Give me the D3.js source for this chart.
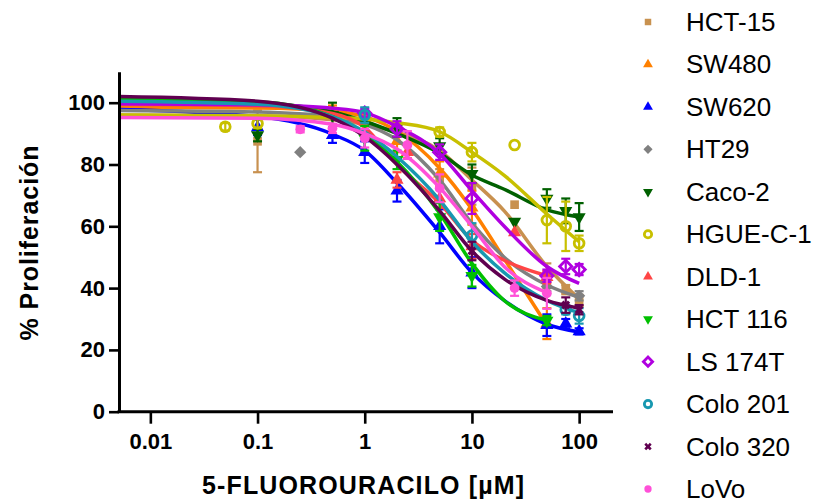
<!DOCTYPE html>
<html>
<head>
<meta charset="utf-8">
<script src="https://cdn.jsdelivr.net/npm/d3@7"></script>
<style>
  body { margin: 0; background: #fff; }
  svg { display: block; }
</style>
</head>
<body>
<svg id="chart" width="813" height="504"></svg>
<script>
// legend order = drawing order
const seriesNames = ['HCT-15', 'SW480', 'SW620', 'HT29', 'Caco-2', 'HGUE-C-1',
                     'DLD-1', 'HCT 116', 'LS 174T', 'Colo 201', 'Colo 320', 'LoVo'];
const seriesColors = ['#c8914f', '#ff8000', '#0000ff', '#808080', '#006000', '#c8c000',
                      '#ff4545', '#00c000', '#b000e0', '#1898b0', '#600050', '#ff50d8'];
const seriesShapes = ['square', 'triangle', 'triangle', 'diamond', 'triangleDown', 'circleOpen',
                      'triangle', 'triangleDown', 'diamondOpen', 'circleOpen', 'x', 'circle'];

// concentrations (µM) at which the fitted curves were read
const curveConc = [0.0051, 0.1, 0.5, 1, 2, 5, 10, 20, 50, 100];

// fitted curves, % proliferation at curveConc
const hct15Curve   = [96, 95.8, 94.5, 93, 90.5, 84.5, 75, 65, 47, 36.5];
const sw480Curve   = [98.5, 98.3, 97.2, 95.5, 90.8, 78.8, 65.5, 49.5, 28];
const sw620Curve   = [97.8, 95.5, 89.8, 84.5, 74, 58, 45, 36, 28.3, 25.8];
const ht29Curve    = [97.5, 97, 95.5, 93, 88, 75, 61, 50, 41, 37];
const caco2Curve   = [100.5, 99.8, 97, 94, 90, 83.6, 76.6, 72, 65.3, 63];
const hgueCurve    = [96, 95.8, 95.2, 94.7, 93.5, 90.6, 84, 76.5, 64, 55];
const dld1Curve    = [99.5, 99, 96.5, 92, 80, 67.5, 55.5, 49, 44];
const hct116Curve  = [101, 100.3, 95.5, 89.5, 80.9, 64.2, 48, 36, 29.5];
const ls174tCurve  = [99.7, 99.3, 98.2, 96.8, 92.3, 83.5, 71.5, 60, 47, 41.5];
const colo201Curve = [100.5, 99.5, 95.5, 90.5, 82.5, 68.5, 55, 45, 36, 32];
const colo320Curve = [102, 100.5, 95, 89, 80, 65, 52, 43, 36, 33.5];
const lovoCurve    = [95.2, 95, 93, 90, 85, 72.5, 60, 47, 38.5];

// measured points: [concentration, mean, error]
const hct15Points   = [[0.1, 87.5, 10], [5, 75.5, 3], [10, 73, 6], [25, 67, 0], [50, 44, 4], [75, 39.5, 1.5], [100, 36, 1.8]];
const sw480Points   = [[0.5, 97.6, 1.5], [1, 95, 1.5], [2, 87.5, 3.5], [5, 77, 4], [10, 66, 5.5], [50, 28.5, 5]];
const sw620Points   = [[0.1, 92, 2.5], [0.5, 89.5, 2.5], [1, 84, 3.5], [2, 71.5, 3.5], [5, 60, 5.5], [10, 45, 5], [50, 28, 3.5], [75, 28.5, 1.5], [100, 26, 1]];
const ht29Points    = [[0.25, 84, 0], [50, 40.5, 1.5], [100, 37.5, 1.5]];
const caco2Points   = [[0.1, 89.5, 2], [0.5, 96, 4], [2, 92, 3], [5, 86, 2.5], [10, 77, 3], [25, 61.5, 0], [50, 69, 3], [75, 65, 4], [100, 63, 4.5]];
const hguePoints    = [[0.05, 92.2, 1.2], [0.1, 93.3, 1.5], [5, 90.5, 1.5], [10, 84, 3], [25, 86.3, 0], [50, 62, 7.5], [75, 60, 8], [100, 54.5, 2.5]];
const dld1Points    = [[2, 75, 2.5], [2.5, 84, 2], [5, 69, 3], [10, 53.5, 4], [25, 58, 0], [50, 43.5, 2]];
const hct116Points  = [[1, 88.5, 4], [2, 81.5, 3], [5, 63, 4.5], [10, 44, 3.5], [50, 29.5, 1.5]];
const ls174tPoints  = [[1, 96.6, 1.5], [2, 91.5, 2.5], [5, 84, 2.5], [10, 69, 5], [50, 44, 2], [75, 47, 2.5], [100, 46, 1.8]];
const colo201Points = [[1, 96, 2.5], [10, 57, 4], [75, 33, 1.5], [100, 31, 2.5]];
const colo320Points = [[10, 52, 3], [75, 34.5, 2.5], [100, 33, 1.5]];
const lovoPoints    = [[0.25, 91.4, 1], [0.5, 91.7, 1.5], [1, 88.5, 3], [2.5, 86.3, 4.5], [5, 72.3, 4.5], [25, 40, 2.5], [50, 38.3, 5]];

const allCurves = [hct15Curve, sw480Curve, sw620Curve, ht29Curve, caco2Curve, hgueCurve,
                   dld1Curve, hct116Curve, ls174tCurve, colo201Curve, colo320Curve, lovoCurve];
const allPoints = [hct15Points, sw480Points, sw620Points, ht29Points, caco2Points, hguePoints,
                   dld1Points, hct116Points, ls174tPoints, colo201Points, colo320Points, lovoPoints];

const xTicks = [0.01, 0.1, 1, 10, 100];
const xTickLabels = ['0.01', '0.1', '1', '10', '100'];
const yTicks = [0, 20, 40, 60, 80, 100];

const font = '"Liberation Sans", Arial, sans-serif';
const svg = d3.select('#chart');

const x = d3.scaleLog()
    .domain([0.0051, 207])
    .range([119, 613]);

const y = d3.scaleLinear()
    .domain([0, 110])
    .range([411.7, 71.8]);

// symbol for each marker type
function markerPath(shape, size) {
    const map = {
        square: d3.symbolSquare, diamond: d3.symbolSquare, diamondOpen: d3.symbolSquare,
        triangle: d3.symbolTriangle, triangleDown: d3.symbolTriangle,
        circle: d3.symbolCircle, circleOpen: d3.symbolCircle, x: d3.symbolCross
    };
    return d3.symbol().type(map[shape]).size(size)();
}
function markerRotate(shape) {
    if (shape === 'diamond' || shape === 'diamondOpen' || shape === 'x') return 45;
    if (shape === 'triangleDown') return 180;
    return 0;
}
function drawMarker(g, shape, color, cx, cy, size) {
    const open = shape === 'circleOpen' || shape === 'diamondOpen';
    g.append('path')
        .attr('d', markerPath(shape, size))
        .attr('transform', `translate(${cx},${cy}) rotate(${markerRotate(shape)})`)
        .attr('fill', open ? 'none' : color)
        .attr('stroke', open ? color : 'none')
        .attr('stroke-width', open ? 2.8 : 0);
}

const line = d3.line()
    .x(d => x(d[0]))
    .y(d => y(d[1]))
    .curve(d3.curveMonotoneX);

const plot = svg.append('g');

seriesNames.forEach((name, i) => {
    const color = seriesColors[i];
    const g = plot.append('g').attr('class', 'series');

    // fitted curve
    const curveData = allCurves[i].map((v, j) => [curveConc[j], v]);
    g.append('path')
        .datum(curveData)
        .attr('d', line)
        .attr('fill', 'none')
        .attr('stroke', color)
        .attr('stroke-width', 3.5);

    // error bars
    allPoints[i].filter(p => p[2] > 0).forEach(p => {
        const px = x(p[0]);
        const top = y(p[1] + p[2]);
        const bot = y(p[1] - p[2]);
        g.append('line').attr('x1', px).attr('x2', px).attr('y1', top).attr('y2', bot)
            .attr('stroke', color).attr('stroke-width', 2.2);
        [top, bot].forEach(cy => {
            g.append('line').attr('x1', px - 4.5).attr('x2', px + 4.5).attr('y1', cy).attr('y2', cy)
                .attr('stroke', color).attr('stroke-width', 2.2);
        });
    });

    // markers
    allPoints[i].forEach(p => {
        drawMarker(g, seriesShapes[i], color, x(p[0]), y(p[1]), seriesShapes[i] === 'x' ? 50 : 75);
    });
});

// Axes
const xAxis = svg.append('g')
    .attr('transform', `translate(0,${y(0)})`)
    .call(d3.axisBottom(x)
        .tickValues(xTicks)
        .tickFormat((d, i) => xTickLabels[i])
        .tickSize(12)
        .tickSizeOuter(0)
        .tickPadding(10));

const yAxis = svg.append('g')
    .attr('transform', `translate(${x.range()[0]},0)`)
    .call(d3.axisLeft(y)
        .tickValues(yTicks)
        .tickSize(10)
        .tickSizeOuter(0)
        .tickPadding(4));

[xAxis, yAxis].forEach(ax => {
    ax.select('.domain').attr('stroke', '#000').attr('stroke-width', 3);
    ax.selectAll('.tick line').attr('stroke', '#000').attr('stroke-width', 2.6);
    ax.selectAll('.tick text')
        .style('font-family', font)
        .style('font-size', '22px')
        .style('font-weight', 'bold')
        .attr('fill', '#000');
});
xAxis.select('.domain').attr('d', `M${x.range()[0] - 1.5},0H${x.range()[1]}`);

// Axis titles
svg.append('text')
    .attr('x', 363)
    .attr('y', 494)
    .attr('text-anchor', 'middle')
    .attr('textLength', 322)
    .attr('lengthAdjust', 'spacing')
    .style('font-family', font)
    .style('font-size', '25px')
    .style('font-weight', 'bold')
    .text('5-FLUOROURACILO [µM]');

svg.append('text')
    .attr('transform', 'translate(38,243) rotate(-90)')
    .attr('text-anchor', 'middle')
    .attr('textLength', 195)
    .attr('lengthAdjust', 'spacing')
    .style('font-family', font)
    .style('font-size', '25px')
    .style('font-weight', 'bold')
    .text('% Proliferación');

// Legend
const legendY = d3.scalePoint()
    .domain(seriesNames)
    .range([22, 489]);

const legend = svg.append('g');
seriesNames.forEach((name, i) => {
    const cy = legendY(name);
    drawMarker(legend, seriesShapes[i], seriesColors[i], 648, cy, seriesShapes[i] === 'x' ? 34 : 42);
    legend.append('text')
        .attr('x', 686)
        .attr('y', cy + 9)
        .style('font-family', font)
        .style('font-size', '26px')
        .attr('fill', '#000')
        .text(name);
});
</script>
</body>
</html>
